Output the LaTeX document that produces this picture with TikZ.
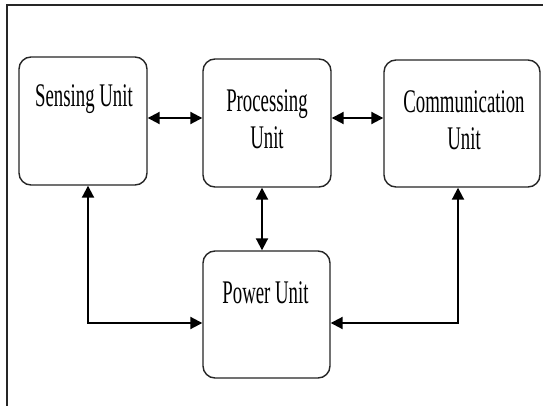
\documentclass[tikz,border=0pt]{standalone}
\usepackage{fontspec}
\setmainfont[FakeStretch=0.57]{Liberation Serif}
\usetikzlibrary{arrows.meta}
\begin{document}
\begin{tikzpicture}[x=1pt,y=-1pt,
  unitbox/.style={draw=black!85,line width=1.4pt,rounded corners=12pt,inner sep=0pt,fill=white},
  lbl/.style={inner sep=0pt,anchor=base,align=center,font=\fontsize{33}{36.5}\selectfont},
  conn/.style={line width=2pt,{Triangle[length=12pt,width=12pt]}-{Triangle[length=12pt,width=12pt]}}]
\useasboundingbox (0,0) rectangle (543,406);
\fill[white] (0,0) rectangle (543,406);
\draw[line width=2pt,black!85] (6.5,406) -- (6.5,5) -- (543,5);
% boxes
\node[unitbox,minimum width=128pt,minimum height=128pt] (s) at (83,121) {};
\node[unitbox,minimum width=128pt,minimum height=128pt] (pr) at (267,123) {};
\node[unitbox,minimum width=156pt,minimum height=127pt] (c) at (462,123.5) {};
\node[unitbox,minimum width=127pt,minimum height=127pt] (pw) at (266.5,314.5) {};
% labels
\node[lbl] (st) at (84,107) {Sensing Unit};
\node[lbl] (prt) at (267,148.5) {Processing\\Unit};
\node[lbl] (ct) at (464,149.5) {Communication\\Unit};
\node[lbl] (pwt) at (265.5,303) {Power Unit};
% helper coordinates
\coordinate (row) at (0,118);
\coordinate (col) at (262,0);
\coordinate (ls) at (88,323);
\coordinate (lc) at (458,323);
% connectors
\draw[conn] (s.east |- row) -- (pr.west |- row);
\draw[conn] (pr.east |- row) -- (c.west |- row);
\draw[conn] (pr.south -| col) -- (pw.north -| col);
\draw[conn] (s.south -| ls) -- (ls) -- (pw.west |- ls);
\draw[conn] (c.south -| lc) -- (lc) -- (pw.east |- lc);
\end{tikzpicture}
\end{document}
